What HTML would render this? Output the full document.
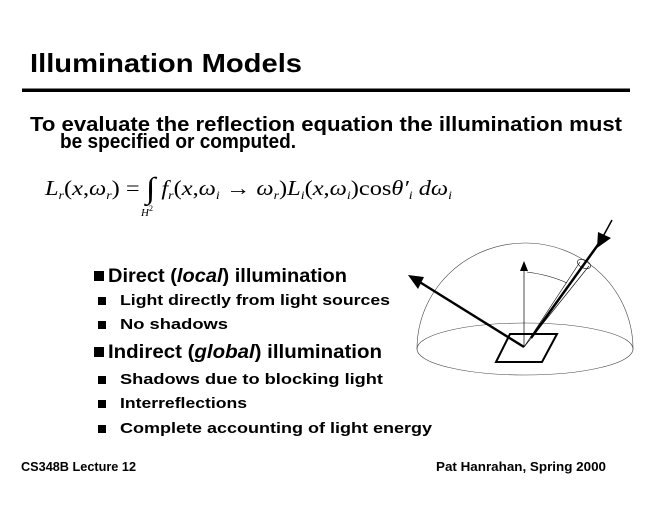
<!DOCTYPE html>
<html><head><meta charset="utf-8"><style>
html,body{margin:0;padding:0;background:#fff;width:660px;height:510px;overflow:hidden}
svg{display:block}
.s{font-family:"Liberation Sans",sans-serif;font-weight:bold;fill:#000}
.m{font-family:"Liberation Serif",serif;font-style:italic;fill:#000}
</style></head><body>
<svg width="660" height="510" viewBox="0 0 660 510" xmlns="http://www.w3.org/2000/svg">
<text class="s" x="30" y="72" font-size="26" textLength="272" lengthAdjust="spacingAndGlyphs">Illumination Models</text>
<rect x="22" y="88.5" width="608" height="3.5" fill="#000"/>
<text class="s" x="30" y="131" font-size="20" textLength="592" lengthAdjust="spacingAndGlyphs">To evaluate the reflection equation the illumination must</text>
<text class="s" x="60" y="148" font-size="20" textLength="236" lengthAdjust="spacingAndGlyphs">be specified or computed.</text>

<text class="m" x="45" y="195" font-size="21" textLength="407" lengthAdjust="spacingAndGlyphs">L<tspan font-size="12" dy="4">r</tspan><tspan dy="-4" font-style="normal">(</tspan>x<tspan font-style="normal">,</tspan>ω<tspan font-size="12" dy="4">r</tspan><tspan dy="-4" font-style="normal">) = </tspan><tspan font-style="normal" font-size="30" dy="3">∫</tspan><tspan dy="-3"> </tspan>f<tspan font-size="12" dy="4">r</tspan><tspan dy="-4" font-style="normal">(</tspan>x<tspan font-style="normal">,</tspan>ω<tspan font-size="12" dy="4">i</tspan><tspan dy="-4" font-style="normal"> → </tspan>ω<tspan font-size="12" dy="4">r</tspan><tspan dy="-4" font-style="normal">)</tspan>L<tspan font-size="12" dy="4">i</tspan><tspan dy="-4" font-style="normal">(</tspan>x<tspan font-style="normal">,</tspan>ω<tspan font-size="12" dy="4">i</tspan><tspan dy="-4" font-style="normal">)cos</tspan>θ′<tspan font-size="12" dy="4">i</tspan><tspan dy="-4"> d</tspan>ω<tspan font-size="12" dy="4">i</tspan></text>
<text class="m" x="141" y="216" font-size="11">H<tspan font-style="normal" font-size="8" dy="-5">2</tspan></text>

<g class="s">
<rect x="94" y="271" width="10" height="10"/>
<text x="108" y="282" font-size="19" textLength="239" lengthAdjust="spacingAndGlyphs">Direct (<tspan font-style="italic">local</tspan>) illumination</text>
<rect x="98" y="297" width="8" height="8"/>
<text x="120" y="305" font-size="15" textLength="270" lengthAdjust="spacingAndGlyphs">Light directly from light sources</text>
<rect x="98" y="321" width="8" height="8"/>
<text x="120" y="329" font-size="15" textLength="108" lengthAdjust="spacingAndGlyphs">No shadows</text>
<rect x="94" y="347" width="10" height="10"/>
<text x="108" y="358" font-size="19" textLength="274" lengthAdjust="spacingAndGlyphs">Indirect (<tspan font-style="italic">global</tspan>) illumination</text>
<rect x="98" y="376" width="8" height="8"/>
<text x="120" y="384" font-size="15" textLength="263" lengthAdjust="spacingAndGlyphs">Shadows due to blocking light</text>
<rect x="98" y="400" width="8" height="8"/>
<text x="120" y="408" font-size="15" textLength="127" lengthAdjust="spacingAndGlyphs">Interreflections</text>
<rect x="98" y="425" width="8" height="8"/>
<text x="120" y="433" font-size="15" textLength="312" lengthAdjust="spacingAndGlyphs">Complete accounting of light energy</text>
<text x="21" y="471" font-size="13" textLength="115" lengthAdjust="spacingAndGlyphs">CS348B Lecture 12</text>
<text x="436" y="471" font-size="13" textLength="170" lengthAdjust="spacingAndGlyphs">Pat Hanrahan, Spring 2000</text>
</g>

<g fill="none" stroke="#000">
<ellipse cx="525" cy="349" rx="108" ry="26" stroke-width="0.6" stroke="#444"/>
<path d="M417 349 A108 106 0 0 1 633 349" stroke-width="0.6" stroke="#444"/>
<path d="M510 334 L557 334 L542 362 L496 362 Z" stroke-width="2"/>
<line x1="524" y1="347" x2="524" y2="268" stroke-width="0.7"/>
<path d="M527 272 Q550 275 567 283" stroke-width="0.6"/>
<line x1="524" y1="347" x2="580" y2="262" stroke-width="0.6"/>
<line x1="524" y1="347" x2="589" y2="266" stroke-width="0.6"/>
<ellipse cx="584" cy="264" rx="7" ry="4" transform="rotate(25 584 264)" stroke-width="0.6"/>
<line x1="524" y1="347" x2="418" y2="281" stroke-width="2.5"/>
<line x1="531" y1="338" x2="600" y2="242" stroke-width="2.5"/>
<line x1="600" y1="242" x2="612" y2="220" stroke-width="1.5"/>
</g>
<polygon points="524,261 520,271 528,271" fill="#000"/>
<polygon points="408,275 424,277 418,289" fill="#000"/>
<polygon points="597,248 598,232 611,238" fill="#000"/>
</svg>
</body></html>
